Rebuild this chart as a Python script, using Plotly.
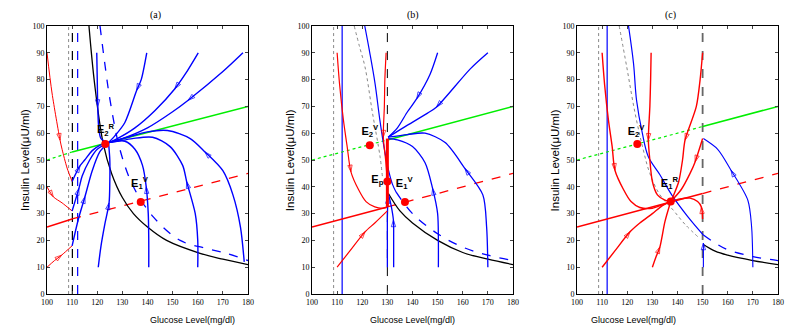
import plotly.graph_objects as go
from plotly.subplots import make_subplots

# ---- shared guide lines (glucose, insulin) ----
green_a_x = [100, 110, 180]
green_a_y = [50, 53, 70]
green_b_x = [100, 130, 180]
green_b_y = [50, 57.5, 70]
green_c_x = [100, 150, 180]
green_c_y = [50, 62.5, 70]
red_a_x = [100, 110, 180]
red_a_y = [25, 28, 45]
red_b_x = [100, 130, 180]
red_b_y = [25, 32.5, 45]
red_c_x = [100, 150, 180]
red_c_y = [25, 37.5, 45]

# nullclines
black_a_x = [116.7, 119, 122.4, 125.7, 130, 134.4, 140, 147.6, 160.9, 170, 180]
black_a_y = [100, 78, 56, 45, 36, 30, 25, 20, 15.2, 13, 11]
bdash_a_x = [121.1, 123, 125.1, 129.1, 134.4, 142.3, 153, 163.5, 172, 180]
bdash_a_y = [100, 86, 72.3, 53.7, 40, 28.8, 20, 17, 15, 12.5]
blue_b_x = [121, 123, 125.1, 127, 129, 130.5, 132, 133.5]
blue_b_y = [100, 90, 78.5, 65, 53, 46, 41, 38]
bdash_b_x = [133.5, 140, 150, 160, 170, 180]
bdash_b_y = [38, 30, 22.5, 17.5, 14.5, 12.5]
black_b_x = [130.4, 135, 140, 150, 160, 170, 180]
black_b_y = [37.5, 31, 26.5, 20, 15.5, 13, 11]
grey_b_x = [116.8, 119, 121.1, 124, 127.1, 128]
grey_b_y = [100, 92, 84.7, 68, 51.2, 44]
blue_c_x = [120.5, 122.5, 123.7, 126, 128.4, 133, 137.7, 144, 150.3]
blue_c_y = [100, 86, 72.3, 60, 51.2, 44.5, 37, 29, 22]
bdash_c_x = [150.3, 155, 160, 170, 180]
bdash_c_y = [22, 19, 16.5, 14, 12.5]
black_c_x = [150.3, 155, 160, 170, 180]
black_c_y = [18.5, 16, 14.5, 12.5, 11]
grey_c_x = [116.8, 119.8, 123, 126.4, 129, 133, 138.3, 143, 148.9]
grey_c_y = [100, 84.7, 68, 53.7, 45, 37, 31.3, 26, 20.7]

# ---- trajectories: (x list, y list, arrow index) ----
a_blue = [
    ([119.8, 120, 120.2, 120.6, 121.5, 124.5], [90, 80, 70, 62, 58, 56.5], 2),
    ([139.7, 137.5, 135.7, 131, 127, 124.5], [90, 80, 76, 64, 59, 56.5], 2),
    ([160.2, 155, 150.9, 143, 135, 128, 124.5], [90, 82, 76.6, 68.5, 62, 58, 56.5], 2),
    ([178, 170, 156.2, 150, 140, 130, 124.5], [90, 83, 72.3, 68, 62, 58, 56.5], 2),
    ([178.5, 177, 174, 170, 162.9, 157, 148, 140, 132, 124.5],
     [12, 25, 37, 46, 53, 58, 61, 60.5, 58.5, 56.5], 4),
    ([160, 160, 159, 155.6, 154, 149, 142, 134, 128, 124.5],
     [10, 20, 30, 41.9, 48, 55, 58.5, 58, 57, 56.5], 3),
    ([140.5, 140.5, 140.3, 139.5, 138, 135, 131, 124.5],
     [10, 20, 30, 40, 48, 54, 57, 56.5], 3),
    ([120.4, 121.5, 123, 124.7, 125, 125, 124.5], [10, 18, 26, 34, 42, 50, 56.5], 3),
    ([110, 113.1, 115, 118, 121, 124.5], [42, 47.8, 50, 53.5, 55.5, 56.5], 1),
    ([110, 112.7, 114, 117, 120, 124.5], [31, 39.4, 44, 50, 54, 56.5], 1),
    ([110, 112.5, 115.1, 118, 121, 124.5], [18, 28, 36.3, 46, 53, 56.5], 2),
]
a_red = [
    ([100, 102, 105.2, 106, 108, 110], [90, 75, 57.4, 54, 47, 42], 2),
    ([100, 102.5, 106, 110], [40, 36.3, 34, 31], 1),
    ([100, 103, 105.8, 110], [10, 12.5, 14.5, 18], 2),
]
b_blue = [
    ([150, 147, 141.7, 138, 134, 130.3], [90, 82, 72.9, 68, 62, 58.5], 2),
    ([170, 163, 149.6, 146, 138, 130.3], [90, 84, 69.8, 67.5, 63, 58.5], 2),
    ([170, 169.5, 168, 160.9, 153, 145, 138, 130.3],
     [10, 25, 37, 46.8, 56.5, 60, 59.5, 58.5], 3),
    ([150.3, 150.3, 150, 148, 145, 140, 134, 130.3],
     [10, 20, 30, 39.4, 49, 55, 57.5, 58], 3),
    ([132.5, 132.5, 132.4, 131.5, 130.5], [10, 20, 27.6, 33, 37], 2),
    ([130, 130, 130, 130.2], [10, 20, 28, 36.3], 3),
]
b_red = [
    ([110, 111, 112.5, 114, 115.5, 118.5, 121.5, 125, 128, 130],
     [90, 78, 65, 55, 45.6, 39, 34.5, 32.5, 32, 32.3], 4),
    ([110, 115, 121.1, 125, 130], [10, 16, 23.2, 26.5, 31], 2),
    ([129.5, 129, 128.8, 128.4, 129.3, 130], [90, 80, 70, 58.6, 50, 42], 3),
]
b_slide_x = [130, 130, 130, 130, 130]
b_slide_y = [58, 50, 42, 36, 32.5]
c_red = [
    ([110, 111, 112.5, 114, 115.1, 118.5, 121.5, 125, 130, 134, 137.3],
     [90, 78, 65, 55, 46.2, 39, 34.5, 32.3, 32, 33.3, 34.5], 4),
    ([129.5, 129.3, 129, 128.4, 129, 130, 132, 135, 137.3],
     [90, 80, 70, 57.4, 50, 42, 37, 35, 34.5], 3),
    ([150, 149, 147.5, 143, 142, 140.5, 138.5, 137.3],
     [90, 80, 70, 57.4, 50, 42, 37, 34.5], 3),
    ([150, 147, 145, 141.5, 137.3], [58, 49.3, 45, 39, 34.5], 1),
    ([150, 149.5, 148, 145, 141, 137.3], [28, 32.5, 34.5, 35.8, 35.5, 34.5], 1),
    ([130, 131.5, 133, 135, 137.3], [10, 14, 17.6, 27, 34.5], 2),
    ([110, 115, 121.1, 125, 130, 134, 137.3], [10, 16, 23.2, 26.5, 30, 33, 34.5], 2),
]
c_blue = [
    ([170, 169.5, 168, 161.3, 156, 150.3], [10, 25, 35, 46.2, 54, 58], 3),
    ([150.3, 150.3, 150.3], [10, 14, 19], 2),
]

# equilibrium points and labels
eq_a_x = [123.2, 137.3]
eq_a_y = [56, 34.3]
eq_a_lbl = ["<b>E<sub>2</sub><sup>R</sup></b>", "<b>E<sub>1</sub><sup>V</sup></b>"]
eq_a_lx = [123.3, 136.8]
eq_a_ly = [61, 41]
eq_b_x = [123, 130, 137]
eq_b_y = [55.5, 42, 34.3]
eq_b_lbl = ["<b>E<sub>2</sub><sup>V</sup></b>", "<b>E<sub>p</sub></b>",
            "<b>E<sub>1</sub><sup>V</sup></b>"]
eq_b_lx = [123, 126, 136.7]
eq_b_ly = [60.5, 42.5, 41]
eq_c_x = [124, 137.3]
eq_c_y = [56, 34.5]
eq_c_lbl = ["<b>E<sub>2</sub><sup>V</sup></b>", "<b>E<sub>1</sub><sup>R</sup></b>"]
eq_c_lx = [123.5, 136.8]
eq_c_ly = [60.5, 41]

switch_x = [110.1, 130, 150]
panel_titles = ["(a)", "(b)", "(c)"]

BLUE = "#0000ff"
RED = "#ff0000"
GREEN = "#00ee00"
GREY = "#888888"

fig = make_subplots(rows=1, cols=3)


def line(col, x, y, color, width=1.2, dash="solid", shape="spline"):
    fig.add_trace(go.Scatter(x=x, y=y, mode="lines",
                             line=dict(color=color, width=width, dash=dash, shape=shape),
                             hoverinfo="skip"), row=1, col=col)


def path(col, pts, color, width=1.3):
    x, y, k = pts
    sizes = [7 if i == k else 0 for i in range(len(x))]
    fig.add_trace(go.Scatter(
        x=x, y=y, mode="lines+markers",
        line=dict(color=color, width=width, shape="spline", smoothing=0.8),
        marker=dict(symbol="arrow-open", size=sizes, angleref="previous",
                    color=color, line=dict(width=1, color=color)),
        hoverinfo="skip"), row=1, col=col)


# verticals present in every panel
for c in (1, 2, 3):
    line(c, [108.6, 108.6], [0, 100], GREY, 1, "dot", "linear")

# panel (a)
line(1, [switch_x[0]] * 2, [0, 100], "black", 1.2, "dash", "linear")
line(1, [112.2, 112.2], [0, 100], BLUE, 1.2, "dash", "linear")
line(1, green_a_x[:2], green_a_y[:2], GREEN, 1.2, "dot", "linear")
line(1, green_a_x[1:], green_a_y[1:], GREEN, 1.5, "solid", "linear")
line(1, red_a_x[:2], red_a_y[:2], RED, 1.5, "solid", "linear")
line(1, red_a_x[1:], red_a_y[1:], RED, 1.3, "dash", "linear")
line(1, black_a_x, black_a_y, "black", 1.3)
line(1, bdash_a_x, bdash_a_y, BLUE, 1.3, "dash")
for p in a_red:
    path(1, p, RED, 1)
for p in a_blue:
    path(1, p, BLUE, 1.4)

# panel (b)
line(2, [112, 112], [0, 100], BLUE, 1.2, "solid", "linear")
line(2, [switch_x[1]] * 2, [0, 100], "black", 1, "dash", "linear")
line(2, green_b_x[:2], green_b_y[:2], GREEN, 1.2, "dot", "linear")
line(2, green_b_x[1:], green_b_y[1:], GREEN, 1.5, "solid", "linear")
line(2, red_b_x[:2], red_b_y[:2], RED, 1.5, "solid", "linear")
line(2, red_b_x[1:], red_b_y[1:], RED, 1.3, "dash", "linear")
line(2, grey_b_x, grey_b_y, GREY, 1, "dot")
line(2, blue_b_x, blue_b_y, BLUE, 1.2)
line(2, bdash_b_x, bdash_b_y, BLUE, 1.3, "dash")
line(2, black_b_x, black_b_y, "black", 1.3)
for p in b_blue:
    path(2, p, BLUE, 1.3)
for p in b_red:
    path(2, p, RED, 1.2)
line(2, b_slide_x, b_slide_y, RED, 3, "solid", "linear")

# panel (c)
line(3, [112, 112], [0, 100], BLUE, 1.2, "solid", "linear")
line(3, [switch_x[2]] * 2, [0, 100], "#666666", 1.8, "dash", "linear")
line(3, green_c_x[:2], green_c_y[:2], GREEN, 1.2, "dot", "linear")
line(3, green_c_x[1:], green_c_y[1:], GREEN, 1.5, "solid", "linear")
line(3, red_c_x[:2], red_c_y[:2], RED, 1.5, "solid", "linear")
line(3, red_c_x[1:], red_c_y[1:], RED, 1.3, "dash", "linear")
line(3, grey_c_x, grey_c_y, GREY, 1, "dot")
line(3, blue_c_x, blue_c_y, BLUE, 1.2)
line(3, bdash_c_x, bdash_c_y, BLUE, 1.3, "dash")
line(3, black_c_x, black_c_y, "black", 1.3)
for p in c_blue:
    path(3, p, BLUE, 1.1)
for p in c_red:
    path(3, p, RED, 1.4)

# equilibria
for c, ex, ey, lbl, lx, ly in ((1, eq_a_x, eq_a_y, eq_a_lbl, eq_a_lx, eq_a_ly),
                               (2, eq_b_x, eq_b_y, eq_b_lbl, eq_b_lx, eq_b_ly),
                               (3, eq_c_x, eq_c_y, eq_c_lbl, eq_c_lx, eq_c_ly)):
    fig.add_trace(go.Scatter(x=ex, y=ey, mode="markers",
                             marker=dict(color=RED, size=8), hoverinfo="skip"),
                  row=1, col=c)
    fig.add_trace(go.Scatter(x=lx, y=ly, mode="text", text=lbl,
                             textfont=dict(family="Liberation Sans", size=11, color="black"),
                             hoverinfo="skip"), row=1, col=c)

# the page body adds an 8px offset, so the layout is shifted up/left by 8px
doms = [[0.04875, 0.30], [0.38, 0.63125], [0.71125, 0.9625]]
ytitle_x = [0.021, 0.3525, 0.684]
for i in range(3):
    fig.update_xaxes(domain=doms[i], row=1, col=i + 1)
    mid = (doms[i][0] + doms[i][1]) / 2
    fig.add_annotation(text=panel_titles[i], x=mid, y=0.979, yanchor="middle",
                       xref="paper", yref="paper", showarrow=False,
                       font=dict(family="Liberation Serif", size=10, color="black"))
    fig.add_annotation(text="Glucose Level(mg/dl)", x=mid, y=0.063, yanchor="middle",
                       xref="paper", yref="paper", showarrow=False,
                       font=dict(family="Liberation Sans", size=9, color="black"))
    fig.add_annotation(text="Insulin Level(\u03bcU/ml)", x=ytitle_x[i], y=0.543,
                       xanchor="center", yanchor="middle",
                       xref="paper", yref="paper", showarrow=False, textangle=-90,
                       font=dict(family="Liberation Sans", size=11.5, color="black"))

fig.update_xaxes(range=[100, 180], dtick=10, ticks="inside", ticklen=3,
                 showline=True, mirror="ticks", linecolor="black", linewidth=1,
                 showgrid=False, zeroline=False, automargin=False,
                 tickfont=dict(family="Liberation Serif", size=8, color="black"))
fig.update_yaxes(range=[0, 100], dtick=10, ticks="inside", ticklen=3,
                 showline=True, mirror="ticks", linecolor="black", linewidth=1,
                 showgrid=False, zeroline=False, domain=[0.141, 0.946], automargin=False,
                 tickfont=dict(family="Liberation Serif", size=8, color="black"))

fig.update_layout(width=800, height=333, margin=dict(l=0, r=0, t=0, b=0),
                  paper_bgcolor="white", plot_bgcolor="white", showlegend=False)

fig.write_html("out.html")
